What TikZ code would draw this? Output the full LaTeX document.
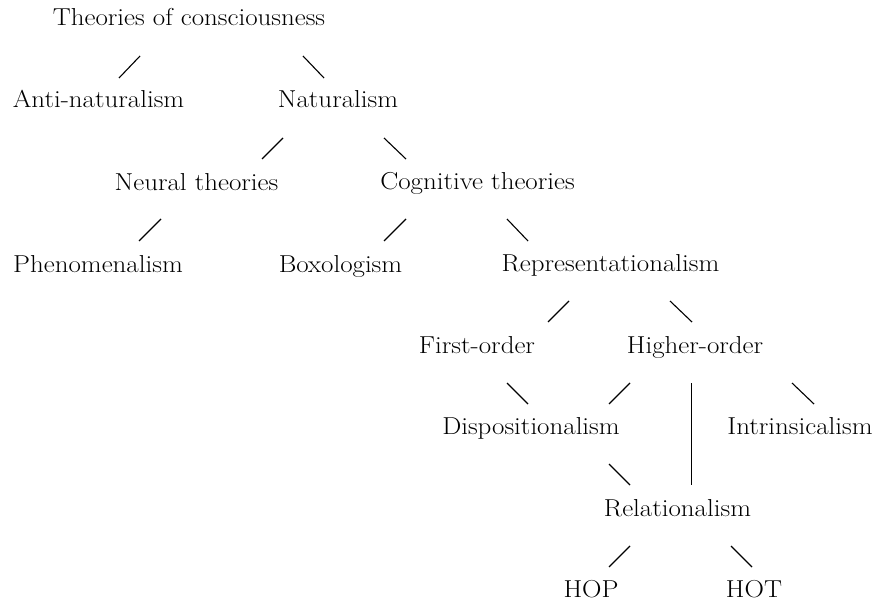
\documentclass[tikz,border=0pt]{standalone}
\usepackage{fontspec}
\setmainfont{Latin Modern Roman}[FakeStretch=1.1]
\begin{document}
\begin{tikzpicture}[x=1pt,y=-1pt,
  lbl/.style={anchor=base,inner sep=0pt,font=\fontsize{24.5}{29}\selectfont},
  seg/.style={line width=1.1pt,black}]
\useasboundingbox (0,0) rectangle (877,607);
% nodes
\node[lbl] (theories) at (189,26) {Theories of consciousness};
\node[lbl] (anti) at (98.5,108) {Anti-naturalism};
\node[lbl] (nat) at (338,108) {Naturalism};
\node[lbl] (neural) at (196.5,190) {Neural theories};
\node[lbl] (cog) at (477.5,189) {Cognitive theories};
\node[lbl] (phen) at (98,272) {Phenomenalism};
\node[lbl] (box) at (340.5,272) {Boxologism};
\node[lbl] (rep) at (610.5,271) {Representationalism};
\node[lbl] (first) at (477,353) {First-order};
\node[lbl] (higher) at (695,353) {Higher-order};
\node[lbl] (disp) at (531,434) {Dispositionalism};
\node[lbl] (intr) at (800,434) {Intrinsicalism};
\node[lbl] (rel) at (677.5,516) {Relationalism};
\node[lbl] (hop) at (591,597) {HOP};
\node[lbl] (hot) at (754,597) {HOT};
% connector end points
\coordinate (a1) at (119,78);  \coordinate (a2) at (140,56);
\coordinate (b1) at (303,56);  \coordinate (b2) at (324,78);
\coordinate (c1) at (262,159); \coordinate (c2) at (283,138);
\coordinate (d1) at (384,138); \coordinate (d2) at (406,159);
\coordinate (e1) at (139,241); \coordinate (e2) at (161,219);
\coordinate (f1) at (384,241); \coordinate (f2) at (406,219);
\coordinate (g1) at (507,219); \coordinate (g2) at (528,241);
\coordinate (h1) at (548,322); \coordinate (h2) at (569,301);
\coordinate (i1) at (670,301); \coordinate (i2) at (692,322);
\coordinate (j1) at (507,383); \coordinate (j2) at (528,404);
\coordinate (k1) at (609,404); \coordinate (k2) at (630,383);
\coordinate (l1) at (691.5,383); \coordinate (l2) at (691.5,485);
\coordinate (m1) at (792,383); \coordinate (m2) at (814,404);
\coordinate (n1) at (609,464); \coordinate (n2) at (630,485);
\coordinate (o1) at (609,567); \coordinate (o2) at (630,546);
\coordinate (p1) at (731,546); \coordinate (p2) at (752,567);
% connectors
\foreach \s in {a,b,c,d,e,f,g,h,i,j,k,l,m,n,o,p}
  \draw[seg] (\s1) -- (\s2);
\end{tikzpicture}
\end{document}
